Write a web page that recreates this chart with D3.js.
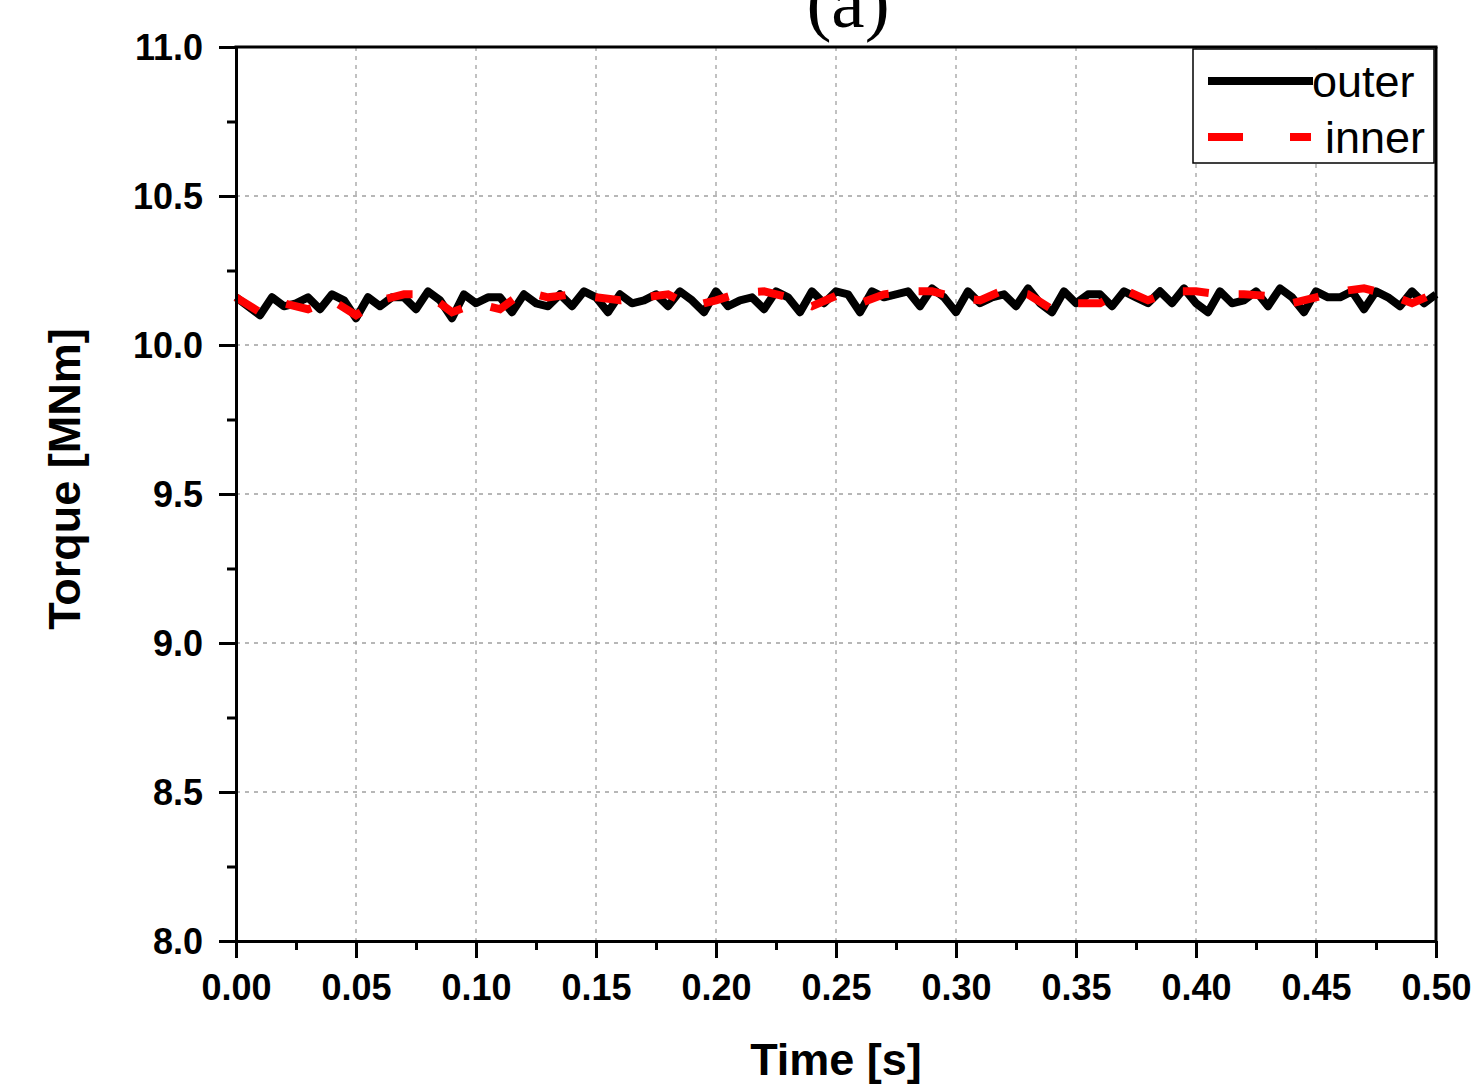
<!DOCTYPE html>
<html>
<head>
<meta charset="utf-8">
<script src="https://d3js.org/d3.v7.min.js"></script>
<style>
  body { margin: 0; background: #fff; }
  svg { display: block; }
  .tick text { font-family: "Liberation Sans", Arial, sans-serif; font-weight: bold; font-size: 36px; fill: #000; }
</style>
</head>
<body>
<script>
// torque values, MNm
var outerStep = 0.005;   // s between outer samples
var outerTorque = [
  10.16, 10.13, 10.10, 10.16, 10.13, 10.14, 10.16, 10.12, 10.17, 10.15,
  10.09, 10.16, 10.13, 10.16, 10.16, 10.12, 10.18, 10.15, 10.09, 10.17,
  10.14, 10.16, 10.16, 10.11, 10.17, 10.14, 10.13, 10.17, 10.13, 10.18,
  10.16, 10.11, 10.17, 10.14, 10.15, 10.17, 10.13, 10.18, 10.15, 10.11,
  10.18, 10.13, 10.15, 10.16, 10.12, 10.18, 10.16, 10.11, 10.18, 10.14,
  10.18, 10.17, 10.11, 10.18, 10.16, 10.17, 10.18, 10.13, 10.19, 10.16,
  10.11, 10.18, 10.14, 10.16, 10.17, 10.13, 10.19, 10.14, 10.11, 10.18,
  10.14, 10.17, 10.17, 10.13, 10.18, 10.16, 10.14, 10.18, 10.14, 10.19,
  10.14, 10.11, 10.18, 10.14, 10.15, 10.18, 10.13, 10.19, 10.16, 10.11,
  10.18, 10.16, 10.16, 10.18, 10.12, 10.18, 10.16, 10.13, 10.18, 10.14,
  10.17
];
var innerStep = 0.01;
var innerTorque = [
  10.16, 10.11, 10.14, 10.12, 10.15, 10.10, 10.15, 10.17, 10.17, 10.11,
  10.14, 10.12, 10.18, 10.16, 10.17, 10.16, 10.15, 10.16, 10.17, 10.13,
  10.15, 10.175, 10.18, 10.16, 10.13, 10.165, 10.14, 10.17, 10.18, 10.18,
  10.16, 10.15, 10.185, 10.17, 10.12, 10.14, 10.14, 10.185, 10.15, 10.18,
  10.18, 10.17, 10.17, 10.165, 10.14, 10.16, 10.18, 10.19, 10.17, 10.14,
  10.175
];
var xTicks = [0, 0.05, 0.10, 0.15, 0.20, 0.25, 0.30, 0.35, 0.40, 0.45, 0.50];
var yTicks = [8.0, 8.5, 9.0, 9.5, 10.0, 10.5, 11.0];
var seriesNames = ["outer", "inner"];

var width = 1472, height = 1089;
var plotL = 236, plotR = 1436, plotT = 47, plotB = 941;

var svg = d3.select("body").append("svg")
    .attr("width", width)
    .attr("height", height);

var x = d3.scaleLinear().domain([0, 0.5]).range([plotL, plotR]);
var y = d3.scaleLinear().domain([8, 11]).range([plotB, plotT]);

// dashed grid
svg.append("g").selectAll("line")
  .data(xTicks.slice(1, -1))
  .enter().append("line")
    .attr("x1", function(d) { return x(d); })
    .attr("x2", function(d) { return x(d); })
    .attr("y1", plotT).attr("y2", plotB)
    .attr("stroke", "#a0a0a0").attr("stroke-width", 1.3)
    .attr("stroke-dasharray", "4,5");
svg.append("g").selectAll("line")
  .data(yTicks.slice(1, -1))
  .enter().append("line")
    .attr("y1", function(d) { return y(d); })
    .attr("y2", function(d) { return y(d); })
    .attr("x1", plotL).attr("x2", plotR)
    .attr("stroke", "#a0a0a0").attr("stroke-width", 1.3)
    .attr("stroke-dasharray", "4,5");

// lines
var outerPts = outerTorque.map(function(v, i) { return [i * outerStep, v]; });
var innerPts = innerTorque.map(function(v, i) { return [i * innerStep, v]; });
var line = d3.line()
    .x(function(d) { return x(d[0]); })
    .y(function(d) { return y(d[1]); });

svg.append("path")
    .datum(outerPts)
    .attr("d", line)
    .attr("fill", "none")
    .attr("stroke", "#000")
    .attr("stroke-width", 8)
    .attr("stroke-linejoin", "round");
svg.append("path")
    .datum(innerPts)
    .attr("d", line)
    .attr("fill", "none")
    .attr("stroke", "#ff0000")
    .attr("stroke-width", 8)
    .attr("stroke-dasharray", "26,30");

// minor ticks
var xMinor = xTicks.slice(0, -1).map(function(d) { return d + 0.025; });
var yMinor = yTicks.slice(0, -1).map(function(d) { return d + 0.25; });
svg.append("g")
    .attr("transform", "translate(0," + plotB + ")")
    .call(d3.axisBottom(x).tickValues(xMinor).tickSize(9).tickFormat(""))
    .call(function(g) { g.select(".domain").remove(); g.selectAll("line").attr("stroke-width", 3); });
svg.append("g")
    .attr("transform", "translate(" + plotL + ",0)")
    .call(d3.axisLeft(y).tickValues(yMinor).tickSize(9).tickFormat(""))
    .call(function(g) { g.select(".domain").remove(); g.selectAll("line").attr("stroke-width", 3); });

// major axes
var xAxis = svg.append("g")
    .attr("transform", "translate(0," + plotB + ")")
    .call(d3.axisBottom(x).tickValues(xTicks).tickSize(17).tickSizeOuter(0).tickFormat(d3.format(".2f")));
xAxis.selectAll("text").attr("y", 59).attr("dy", 0);
var yAxis = svg.append("g")
    .attr("transform", "translate(" + plotL + ",0)")
    .call(d3.axisLeft(y).tickValues(yTicks).tickSize(17).tickSizeOuter(0).tickFormat(d3.format(".1f")));
yAxis.selectAll("text").attr("x", -33).attr("dy", "0.36em");
svg.selectAll(".domain").attr("stroke-width", 3);
svg.selectAll(".tick line").attr("stroke-width", 3);

// frame top and right
svg.append("line").attr("x1", plotL - 1.5).attr("x2", plotR + 1.5).attr("y1", plotT).attr("y2", plotT)
    .attr("stroke", "#000").attr("stroke-width", 3);
svg.append("line").attr("x1", plotR).attr("x2", plotR).attr("y1", plotT).attr("y2", plotB)
    .attr("stroke", "#000").attr("stroke-width", 3);

// axis titles
svg.append("text")
    .attr("x", (plotL + plotR) / 2)
    .attr("y", 1075)
    .attr("text-anchor", "middle")
    .style("font-family", "'Liberation Sans', Arial, sans-serif")
    .style("font-weight", "bold")
    .style("font-size", "45px")
    .text("Time [s]");
svg.append("text")
    .attr("transform", "translate(80,479) rotate(-90)")
    .attr("text-anchor", "middle")
    .style("font-family", "'Liberation Sans', Arial, sans-serif")
    .style("font-weight", "bold")
    .style("font-size", "45px")
    .text("Torque [MNm]");

// panel label, cut by the top edge as in the source figure
svg.append("text")
    .attr("x", 848)
    .attr("y", 27)
    .attr("text-anchor", "middle")
    .style("font-family", "'Liberation Serif', 'Times New Roman', serif")
    .style("font-size", "75px")
    .text("(a)");

// legend
var legend = svg.append("g");
legend.append("rect")
    .attr("x", 1193).attr("y", 49)
    .attr("width", 241).attr("height", 114)
    .attr("fill", "#fff")
    .attr("stroke", "#000").attr("stroke-width", 1.5);
legend.append("line")
    .attr("x1", 1208).attr("x2", 1313).attr("y1", 81).attr("y2", 81)
    .attr("stroke", "#000").attr("stroke-width", 8);
legend.append("line")
    .attr("x1", 1208).attr("x2", 1311).attr("y1", 137).attr("y2", 137)
    .attr("stroke", "#ff0000").attr("stroke-width", 8)
    .attr("stroke-dasharray", "35,47");
legend.selectAll("text.lg")
  .data(seriesNames)
  .enter().append("text")
    .attr("class", "lg")
    .attr("x", function(d, i) { return i === 0 ? 1312 : 1325; })
    .attr("y", function(d, i) { return i === 0 ? 97 : 153; })
    .style("font-family", "'Liberation Sans', Arial, sans-serif")
    .style("font-size", "45px")
    .text(function(d) { return d; });
</script>
</body>
</html>
